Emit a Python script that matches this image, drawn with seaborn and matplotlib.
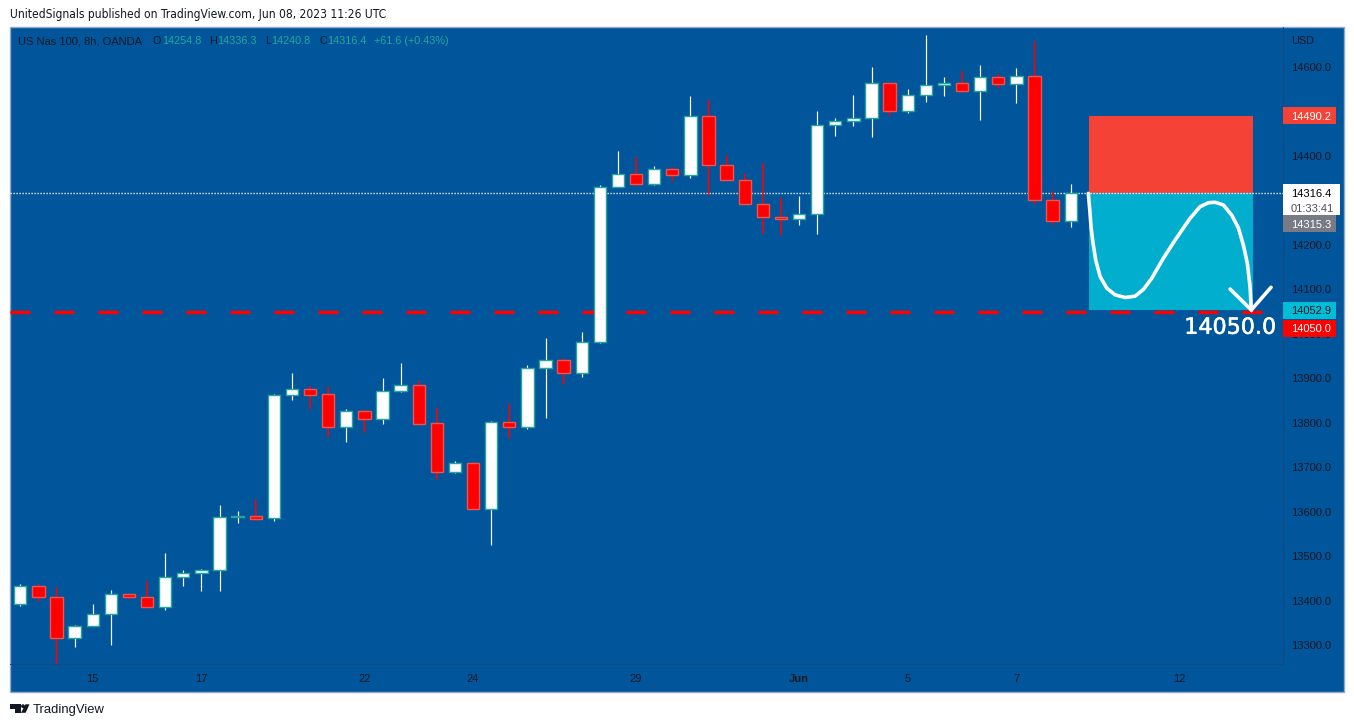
import numpy as np
import pandas as pd
import matplotlib
matplotlib.use('Agg')
import matplotlib.pyplot as plt
import matplotlib.patheffects as pe
from matplotlib.patches import Rectangle, Polygon, Circle
import seaborn as sns

# -------------------------
# DATA (US Nas 100, 8h candles)
# -------------------------
opens = [13393, 13433, 13408, 13316, 13343, 13370, 13415, 13408, 13386, 13453,
         13462, 13469, 13588, 13590, 13586, 13862, 13876, 13865, 13790, 13826,
         13808, 13873, 13885, 13799, 13691, 13709, 13606, 13802, 13792, 13923,
         13941, 13912, 13981, 14330, 14359, 14338, 14370, 14358, 14491, 14380,
         14345, 14293, 14262, 14258, 14269, 14469, 14479, 14485, 14563, 14500,
         14536, 14559, 14563, 14547, 14577, 14562, 14579, 14302, 14254.8]
highs = [13438, 13438, 13431, 13345, 13393, 13425, 13416, 13444, 13508, 13470,
         13471, 13616, 13602, 13628, 13865, 13912, 13883, 13881, 13831, 13829,
         13901, 13935, 13894, 13835, 13715, 13712, 13804, 13843, 13930, 13991,
         13945, 14005, 14335, 14411, 14397, 14378, 14375, 14535, 14526, 14402,
         14360, 14384, 14306, 14310, 14501, 14485, 14537, 14600, 14563, 14551,
         14672, 14578, 14591, 14604, 14584, 14598, 14658, 14321, 14336.3]
lows = [13389, 13398, 13259, 13297, 13343, 13300, 13404, 13382, 13380, 13434,
        13423, 13423, 13576, 13580, 13580, 13852, 13831, 13767, 13758, 13778,
        13798, 13870, 13795, 13673, 13688, 13606, 13526, 13765, 13787, 13812,
        13886, 13904, 13979, 14330, 14333, 14335, 14343, 14351, 14311, 14344,
        14290, 14225, 14222, 14245, 14225, 14445, 14467, 14443, 14490, 14497,
        14521, 14535, 14542, 14481, 14551, 14519, 14292, 14245, 14240.8]
closes = [13433, 13408, 13316, 13343, 13370, 13415, 13408, 13386, 13453, 13462,
          13469, 13588, 13590, 13585, 13862, 13876, 13864, 13790, 13826, 13808,
          13873, 13885, 13798, 13691, 13709, 13606, 13802, 13792, 13923, 13941,
          13912, 13981, 14330, 14359, 14338, 14370, 14358, 14491, 14380, 14345,
          14293, 14262, 14258, 14269, 14469, 14479, 14485, 14563, 14500, 14536,
          14559, 14563, 14547, 14577, 14562, 14579, 14302, 14255, 14316.4]

x_tick_bars = [4, 10, 19, 25, 34, 43, 49, 55, 64]
x_tick_labels = ['15', '17', '22', '24', '29', 'Jun', '5', '7', '12']
y_ticks = [13300, 13400, 13500, 13600, 13700, 13800, 13900, 14000,
           14100, 14200, 14300, 14400, 14500, 14600]

stop_price = 14490.2
entry_price = 14316.4
target_price = 14052.9
level_price = 14050.0
box_bars = [59.0, 68.07]

# hand drawn path on the chart
curve_bars = [58.97, 59.05, 59.12, 59.23, 59.38, 59.62, 59.99, 60.45, 61.0, 61.55,
              62.01, 62.47, 63.11, 63.76, 64.59, 65.14, 65.60, 65.97, 66.43, 66.89,
              67.26, 67.53, 67.75, 67.90, 67.97]
curve_prices = [14316, 14279, 14241, 14204, 14166, 14129, 14103, 14088, 14082, 14085,
                14100, 14125, 14170, 14211, 14260, 14286, 14295, 14296, 14290, 14267,
                14238, 14200, 14159, 14106, 14054]
arrow_bars = [66.8, 67.97, 69.06]
arrow_prices = [14101, 14054, 14105]

# Colors
bg = '#01569b'
frame = '#8fabcb'
dark = '#131722'
teal = '#26a69a'
red = '#ff0000'
red_edge = '#ef5350'
box_red = '#f44336'
box_teal = '#02aecd'

sns.set_style('white')
plt.rcParams['font.family'] = ['Liberation Sans', 'DejaVu Sans']
plt.rcParams['lines.scale_dashes'] = False

df = pd.DataFrame({'bar': np.arange(len(opens)), 'open': opens, 'high': highs,
                   'low': lows, 'close': closes})
df['body'] = df['close'] - df['open']
up = df[df['body'] >= 0]
down = df[df['body'] < 0]

W, H = 1354, 727
fig = plt.figure(figsize=(W / 100, H / 100), dpi=100, facecolor='white')

# -------------------------
# PAGE CHROME (pixel coords)
# -------------------------
back = fig.add_axes([0, 0, 1, 1], zorder=0)
back.set_xlim(0, W)
back.set_ylim(H, 0)
back.axis('off')
back.add_patch(Rectangle((10, 27), 1334, 665, facecolor=bg, edgecolor=frame, linewidth=1))
back.text(10, 14.5, 'UnitedSignals published on TradingView.com, Jun 08, 2023 11:26 UTC',
          fontsize=8.63, color=dark, va='center', family='DejaVu Sans', stretch='condensed')
back.text(33, 709.5, 'TradingView', fontsize=9.4, color=dark, va='center')
back.add_patch(Polygon([(10, 704.3), (20.5, 704.3), (20.5, 712.8), (14.7, 712.8),
                        (14.7, 708.6), (10, 708.6)], color=dark, lw=0))
back.add_patch(Circle((23, 706.2), 1.9, color=dark, lw=0))
back.add_patch(Polygon([(25.5, 704.3), (29.5, 704.3), (25.6, 712.8), (21, 712.8)], color=dark, lw=0))

legend_parts = [(18, 'US Nas 100, 8h, OANDA', dark, 8.0), (152.5, 'O', dark, 7.8), (162, '14254.8', teal, 7.8),
                (209.5, 'H', dark, 7.8), (217, '14336.3', teal, 7.8), (265.5, 'L', dark, 7.8),
                (271.5, '14240.8', teal, 7.8), (319, 'C', dark, 7.8), (327, '14316.4', teal, 7.8),
                (374, '+61.6 (+0.43%)', teal, 7.8)]
for px_x, txt, col, size in legend_parts:
    back.text(px_x, 41.5, txt, fontsize=size, color=col, va='center')
back.text(1291, 40.5, 'USD', fontsize=7.8, color=dark, va='center')

# -------------------------
# MAIN CHART
# -------------------------
ax = fig.add_axes([10 / W, 1 - 664 / H, 1273 / W, 637 / H], zorder=1)
ax.set_facecolor('none')

# risk / reward boxes
ax.fill_between(box_bars, entry_price, stop_price, color=box_red, linewidth=0, zorder=1)
ax.fill_between(box_bars, target_price, entry_price, color=box_teal, linewidth=0, zorder=1)

ax.axhline(level_price, color=red, lw=2.5, ls=(0, (14.4, 17.28)), zorder=0.5, dash_capstyle='butt')
ax.axhline(entry_price, color='white', lw=1.0, ls=(0, (0.9, 1.26)), zorder=1.5, snap=True,
           dash_capstyle='butt')

# wicks, red ones a touch wider or they fade into the blue
for _, row in df.iterrows():
    is_up = row['body'] >= 0
    ax.plot([row['bar'], row['bar']], [row['low'], row['high']], color='white' if is_up else red,
            lw=0.85 if is_up else 1.15, zorder=1.8, snap=is_up, solid_capstyle='butt')

# bodies
sns.barplot(data=up, x='bar', y='body', bottom=up['open'].to_numpy(), native_scale=True,
            width=0.68, color='white', saturation=1, errorbar=None, ax=ax,
            edgecolor=teal, linewidth=1.0, zorder=2)
sns.barplot(data=down, x='bar', y='body', bottom=down['open'].to_numpy(), native_scale=True,
            width=0.68, color=red, saturation=1, errorbar=None, ax=ax,
            edgecolor=red_edge, linewidth=1.0, zorder=2)

# drawing on top
sns.lineplot(x=curve_bars, y=curve_prices, sort=False, color='white', lw=2.6, ax=ax, zorder=3,
             solid_joinstyle='round', solid_capstyle='round', errorbar=None)
sns.lineplot(x=arrow_bars, y=arrow_prices, sort=False, color='white', lw=2.6, ax=ax, zorder=3,
             solid_joinstyle='miter', solid_capstyle='round', errorbar=None)

ax.text(69.36, 14014, '14050.0', fontsize=16.0, color='white', ha='right', va='center',
        family='DejaVu Sans', zorder=4, clip_on=False,
        path_effects=[pe.withStroke(linewidth=0.4, foreground='white')])

ax.set_xlim(-0.569, 69.72)
ax.set_ylim(14600 - 2.2472 * (664 - 67), 14600 + 2.2472 * (67 - 27))
ax.set_xlabel('')
ax.set_ylabel('')
ax.set_xticks(x_tick_bars)
ax.set_xticklabels(x_tick_labels)
ax.get_xticklabels()[5].set_fontweight('bold')
ax.yaxis.tick_right()
ax.set_yticks(y_ticks)
ax.set_yticklabels(['{:.1f}'.format(v) for v in y_ticks])
ax.tick_params(axis='x', length=0, labelsize=8, labelcolor=dark, pad=7)
ax.tick_params(axis='y', length=0, labelsize=8, labelcolor=dark, pad=5.5, right=False, labelright=True)
ax.grid(False)
for side in ['top', 'left']:
    ax.spines[side].set_visible(False)
for side in ['right', 'bottom']:
    ax.spines[side].set_color('#17487c')
    ax.spines[side].set_linewidth(0.7)

# -------------------------
# PRICE TAGS ON THE SCALE
# -------------------------
tr = ax.get_yaxis_transform()
px = 1 / 1273


def price_tag(lo, hi, txt, face, color, width=53):
    ax.add_patch(Rectangle((1, lo), width * px, hi - lo, transform=tr, facecolor=face,
                           edgecolor='none', clip_on=False, zorder=5))
    ax.text(1 + 8 * px, (lo + hi) / 2, txt, transform=tr, fontsize=8, color=color,
            va='center_baseline', clip_on=False, zorder=6)


price_tag(14471, 14509, '14490.2', box_red, 'white')
price_tag(14229, 14267, '14315.3', '#787b86', 'white')
price_tag(14034, 14072, '14052.9', '#00bcd4', dark)
price_tag(13994, 14032, '14050.0', red, 'white')
ax.add_patch(Rectangle((1, 14267), 57 * px, 70, transform=tr, facecolor='white',
                       edgecolor='none', clip_on=False, zorder=5))
ax.text(1 + 8 * px, 14316.4, '14316.4', transform=tr, fontsize=8, color='black',
        va='center_baseline', clip_on=False, zorder=6)
ax.text(1 + 8 * px, 14283, '01:33:41', transform=tr, fontsize=8, color='#4a4e5a',
        va='center_baseline', clip_on=False, zorder=6)

fig.savefig('out.png', dpi=100, facecolor='white')
